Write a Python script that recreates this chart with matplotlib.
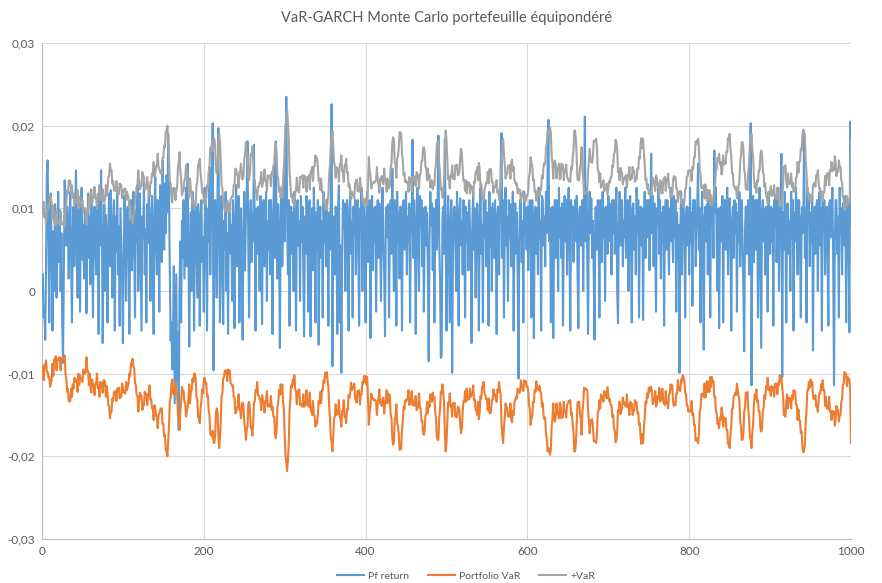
import matplotlib.pyplot as plt
import numpy as np
from matplotlib.lines import Line2D
from matplotlib.ticker import FuncFormatter, MultipleLocator

plt.rcParams['font.family'] = ['Lato', 'DejaVu Sans']

# rendement du portefeuille simulé (en 1e-4), 1000 tirages
pf_return = [
    20, -32, -25, -59, 30, 142, 158, 62, -38, 95, 118, 40, -48, 72, 0, 105, 88, -8, 60, 120,
    35, 98, 0, 70, -40, -87, 20, 134, 110, 55, 102, 78, 15, 92, 120, 45, -38, 68, 102, 30,
    85, 146, 60, -8, 112, 70, -25, 95, 125, 38, 80, 15, 100, 58, -27, 75, 118, 40, 90, 8,
    110, 62, -32, 88, 102, 45, 20, 98, 70, -52, 115, 55, 146, 80, -63, 40, 105, 0, 92, 60,
    -38, 75, 118, 30, 122, 85, -8, 68, 110, -48, 90, 48, 125, 20, 78, -42, 100, 60, 15, -63,
    40, 115, 70, -12, 95, 102, 55, -52, 82, 110, 25, 68, 120, 45, -32, 98, 60, 128, 0, 80,
    118, 35, -48, 90, 65, 132, 20, 75, -38, 105, 58, 125, 88, -12, 70, 115, 40, -52, 95, 138,
    60, 20, 110, 75, -25, 128, 90, 35, 158, 100, 50, 130, 70, 140, 95, 190, 120, 20, -60, -38,
    -95, -40, 30, -136, -60, 20, -110, -50, -168, 0, 60, -38, 85, 40, 110, 15, 70, 125, 30, 154,
    60, -67, 40, 95, 0, 120, 70, -48, 88, 102, 50, -8, 105, 75, -42, 90, 110, 35, 65, -25,
    80, 125, 45, -48, 100, 60, 150, 20, 95, 102, 203, -96, 40, 110, 70, -8, 125, 197, 60, -38,
    75, 115, 20, -40, 85, 50, 120, 0, 70, -52, 95, 106, 45, 80, -12, 110, 60, -45, 90, 128,
    30, 85, 115, -38, 65, 100, 40, -59, 70, 120, 25, 90, 110, 181, 55, -32, 80, 110, 35, 95,
    60, 177, 70, -48, 100, 45, 102, 80, 0, 115, 60, -40, 95, 110, 30, 75, 120, -12, 85, 50,
    110, 20, 110, 65, -52, 95, 150, 40, 181, 70, 15, 105, 55, -69, 80, 120, 30, 90, 150, 60,
    170, 235, 90, 20, 110, -42, 70, 102, 45, 95, 0, 120, 75, -48, 100, 110, 55, 85, -12, 115,
    60, 102, 20, -55, 90, 45, 115, 75, -25, 105, 110, -55, 60, 100, 25, 125, 80, -38, 95, 50,
    110, -65, 70, 102, 40, 85, -32, 120, 60, 100, 30, 110, 75, -42, 95, 50, 120, 226, -91, 60,
    90, 20, 102, 70, -52, 100, 128, -38, 55, -99, 40, 110, 75, 106, 0, 90, 110, 60, -48, 100,
    120, 45, 85, -32, 102, 70, 110, 20, 95, 110, 55, -42, 100, 75, 125, 0, 85, 106, 50, -38,
    90, 120, 35, 70, 110, -57, 80, 115, 25, 100, 60, 102, -25, 85, 110, 40, 106, 70, -12, 95,
    125, 55, 20, -55, 90, 102, 65, 105, -32, 80, 110, 45, 148, 70, 0, 110, 85, -42, 120, 60,
    95, 15, 102, 75, -48, 105, 110, 50, 85, 120, 20, 90, 60, 106, -38, 100, 70, 183, 40, 110,
    55, -52, 90, 125, 65, 0, 115, 80, 110, 30, 100, -25, 75, 102, 55, 95, 20, -85, 60, 120,
    80, 106, 25, 100, -38, 70, 110, 50, 110, 188, 60, 15, -81, -79, 90, 102, 45, 183, 70, -48,
    60, 115, 35, -38, 90, 110, -99, 40, 100, 102, 65, 0, 120, 80, -42, 95, 112, 55, 85, 20,
    110, 70, -32, 102, 60, 95, 25, 110, 80, 40, -63, 85, 120, 50, 100, -8, 75, 106, 60, -48,
    90, 125, 45, 80, -38, 115, 65, 110, 30, 95, 70, -42, 120, 55, 100, 0, 106, 75, 40, 110,
    60, -52, 95, 102, 20, 85, 150, 191, 40, 110, -32, 75, 125, 55, 90, -12, 110, 65, 105, 30,
    80, 120, -48, 70, 106, 45, 95, 15, -106, 60, 110, 110, 35, 85, -38, 120, 70, 100, 50, 102,
    25, 95, 110, 60, -32, 110, 75, -57, 90, 102, 45, 100, 20, 125, 65, 85, -48, 115, 110, 55,
    90, 30, 120, 70, 150, 207, 60, 100, -38, 85, 102, -57, 75, 110, 40, 110, 95, 0, 125, 65,
    100, 40, 106, -42, 80, 115, 60, 110, 20, 95, 125, 50, -48, 110, 75, 102, 35, 90, 110, 60,
    115, 20, -45, 95, 102, 55, 80, 110, 0, 100, 211, 60, 125, 30, -52, 90, 120, 70, 112, 40,
    85, 20, -59, 100, 102, 50, 110, 75, -32, 110, 90, 35, 120, 65, 100, -12, 102, 80, 45, 115,
    60, 106, 90, 20, 110, 70, 110, 45, 95, 125, 0, -39, 80, 120, 55, 100, 110, 30, 85, 65,
    125, 40, 95, 110, 0, 80, 115, 60, -38, 100, 106, 50, 90, 20, 125, 70, 110, -32, 85, 102,
    55, 100, -35, 75, 120, 40, 95, 110, 65, 110, 25, 90, 166, 70, 115, 30, 106, 55, -25, 100,
    80, 125, 45, 110, 15, 95, 60, 102, -42, 85, 110, 50, 110, 75, 20, 100, 60, 125, 90, 35,
    115, 65, 110, -25, 95, 40, 80, -99, 60, 120, 20, 105, 110, 70, -32, 90, 102, 55, 100, 20,
    125, 60, 95, -18, 110, 80, 110, 30, 75, 106, 154, 50, 100, -38, 85, 120, 40, -71, 90, 102,
    60, 105, 20, 110, 75, -32, 110, 85, 106, 40, 170, 95, 125, 55, 0, 100, -45, 80, 102, 60,
    115, -38, 90, 110, 50, 80, 125, 20, 100, 112, 60, -48, 85, 102, 40, 110, 70, 106, -25, 95,
    60, 120, 30, 90, 110, 55, 0, -73, 75, 102, 45, 100, 110, 20, 85, 203, -114, 60, 115, 35,
    90, 110, 50, 110, -32, 75, 125, 30, -69, 95, 110, 60, 100, 20, 102, 70, -25, 115, 85, 45,
    102, 60, 100, -42, 110, 80, 115, 35, 90, 125, 0, 75, 110, 166, -104, 95, 50, 120, 70, -38,
    105, 106, 45, 85, 0, 120, 65, 110, -48, 95, 60, 125, 80, 20, 110, 110, 50, -32, 90, 102,
    70, 190, 40, 100, -38, 125, 85, 110, 30, 95, 60, 115, -72, 80, 102, 45, 100, 110, 0, 85,
    120, 55, 100, -48, 110, 75, 110, 20, 90, 102, 50, -42, 105, 110, 65, 85, 125, 35, -114, 60,
    110, 110, 45, 90, -32, 125, 70, 100, 20, 106, 80, 55, 115, -38, 95, 110, 60, -50, 205, 80,
]

# VaR GARCH du portefeuille (en 1e-4)
portfolio_var = [
    -93, -108, -89, -91, -84, -98, -98, -105, -104, -116, -111, -107, -88, -103, -83, -82, -79, -96, -82, -84,
    -81, -80, -96, -81, -83, -80, -82, -78, -100, -105, -122, -118, -133, -134, -133, -118, -128, -113, -118, -105,
    -109, -110, -107, -122, -100, -114, -102, -107, -108, -110, -95, -99, -100, -98, -80, -96, -97, -114, -100, -117,
    -123, -107, -114, -114, -126, -112, -112, -100, -117, -117, -128, -110, -111, -112, -123, -108, -108, -111, -128, -115,
    -123, -138, -139, -154, -146, -146, -130, -133, -122, -122, -121, -133, -118, -122, -117, -130, -127, -128, -112, -117,
    -123, -121, -124, -110, -120, -116, -112, -100, -103, -87, -90, -82, -91, -94, -111, -114, -126, -127, -146, -133,
    -123, -126, -127, -144, -140, -138, -122, -125, -124, -138, -125, -127, -114, -132, -131, -142, -141, -156, -138, -141,
    -151, -151, -166, -150, -148, -144, -142, -142, -161, -161, -176, -174, -193, -194, -200, -180, -162, -133, -130, -113,
    -107, -124, -125, -124, -110, -124, -124, -149, -156, -168, -145, -135, -116, -120, -121, -134, -135, -152, -146, -141,
    -129, -113, -136, -122, -120, -106, -110, -100, -100, -107, -128, -132, -153, -154, -160, -142, -134, -119, -124, -109,
    -105, -112, -111, -128, -126, -144, -150, -173, -174, -176, -169, -183, -184, -176, -147, -142, -147, -174, -190, -179,
    -157, -127, -124, -106, -104, -96, -98, -96, -109, -95, -100, -96, -111, -112, -115, -114, -128, -129, -148, -147,
    -141, -140, -125, -144, -144, -154, -136, -135, -138, -160, -165, -180, -168, -164, -137, -134, -143, -166, -164, -175,
    -163, -135, -134, -120, -122, -110, -126, -126, -131, -131, -144, -126, -131, -134, -147, -134, -132, -121, -140, -137,
    -139, -140, -127, -144, -140, -152, -152, -173, -178, -168, -141, -135, -120, -126, -113, -124, -113, -134, -144, -175,
    -199, -207, -218, -204, -184, -144, -130, -114, -117, -107, -112, -102, -119, -122, -137, -122, -120, -119, -138, -137,
    -139, -140, -125, -140, -138, -138, -120, -137, -138, -140, -123, -143, -146, -150, -133, -150, -151, -164, -158, -161,
    -149, -133, -136, -122, -136, -120, -120, -108, -111, -99, -104, -98, -109, -116, -141, -154, -178, -183, -194, -177,
    -155, -152, -137, -150, -148, -148, -132, -153, -154, -164, -145, -145, -132, -152, -151, -160, -143, -144, -126, -129,
    -123, -111, -120, -116, -116, -112, -130, -132, -135, -121, -122, -120, -137, -126, -125, -110, -112, -103, -110, -103,
    -113, -104, -129, -162, -146, -140, -124, -129, -130, -132, -131, -133, -134, -150, -133, -130, -119, -136, -134, -139,
    -131, -129, -148, -136, -134, -120, -136, -124, -125, -127, -150, -154, -179, -186, -183, -156, -152, -137, -160, -163,
    -173, -192, -192, -190, -166, -158, -140, -143, -132, -134, -131, -131, -120, -138, -135, -132, -121, -138, -134, -139,
    -131, -127, -144, -142, -140, -124, -140, -142, -157, -157, -172, -174, -169, -150, -149, -134, -148, -135, -140, -125,
    -131, -134, -123, -130, -128, -146, -154, -177, -180, -180, -153, -143, -122, -124, -113, -122, -135, -172, -194, -183,
    -159, -135, -138, -124, -140, -138, -152, -136, -137, -135, -152, -150, -153, -140, -141, -144, -162, -172, -166, -147,
    -133, -134, -121, -134, -118, -132, -130, -131, -118, -128, -125, -125, -114, -132, -131, -144, -145, -150, -134, -155,
    -147, -127, -130, -116, -114, -110, -124, -126, -131, -131, -144, -130, -147, -148, -147, -132, -132, -119, -126, -125,
    -131, -134, -119, -122, -110, -120, -126, -161, -174, -184, -165, -153, -136, -140, -141, -152, -151, -152, -136, -155,
    -159, -145, -150, -134, -132, -128, -130, -118, -123, -123, -122, -108, -115, -118, -121, -108, -112, -109, -116, -115,
    -121, -138, -143, -162, -154, -152, -134, -135, -120, -122, -109, -119, -118, -120, -115, -122, -123, -140, -136, -151,
    -155, -153, -174, -178, -194, -190, -194, -198, -191, -163, -154, -136, -155, -158, -153, -136, -148, -149, -154, -135,
    -137, -154, -153, -152, -134, -146, -146, -153, -138, -136, -133, -133, -132, -150, -147, -162, -171, -194, -194, -183,
    -159, -135, -134, -134, -150, -154, -174, -146, -137, -117, -120, -118, -119, -120, -145, -156, -172, -159, -156, -155,
    -163, -182, -181, -182, -184, -172, -146, -145, -132, -142, -125, -129, -128, -134, -121, -124, -123, -130, -116, -125,
    -133, -131, -138, -138, -152, -150, -166, -168, -183, -180, -170, -144, -145, -134, -149, -146, -142, -129, -136, -135,
    -139, -140, -125, -140, -138, -150, -134, -137, -136, -150, -145, -145, -132, -136, -135, -148, -147, -162, -160, -179,
    -185, -173, -184, -166, -154, -134, -136, -124, -129, -117, -122, -116, -116, -122, -137, -134, -132, -121, -140, -137,
    -127, -130, -117, -134, -132, -120, -118, -135, -136, -138, -121, -135, -136, -142, -125, -124, -113, -118, -114, -133,
    -139, -135, -138, -124, -124, -108, -120, -120, -121, -107, -110, -102, -104, -108, -123, -124, -138, -139, -146, -145,
    -145, -146, -133, -150, -148, -162, -162, -181, -178, -182, -184, -173, -146, -142, -125, -124, -125, -128, -112, -129,
    -123, -109, -122, -110, -122, -104, -116, -104, -111, -109, -128, -128, -145, -148, -161, -158, -166, -153, -156, -141,
    -147, -164, -153, -156, -154, -168, -168, -185, -184, -190, -173, -163, -142, -142, -127, -126, -123, -126, -112, -119,
    -127, -131, -156, -164, -180, -180, -172, -146, -141, -123, -126, -122, -143, -154, -177, -180, -190, -171, -162, -137,
    -125, -130, -119, -134, -132, -146, -146, -165, -170, -166, -145, -141, -126, -130, -115, -116, -105, -120, -116, -121,
    -127, -115, -120, -116, -128, -112, -114, -112, -125, -111, -114, -102, -109, -104, -117, -126, -150, -151, -152, -133,
    -125, -142, -129, -132, -130, -142, -126, -131, -120, -124, -121, -137, -138, -156, -143, -156, -157, -172, -170, -189,
    -195, -194, -186, -158, -144, -120, -120, -110, -117, -107, -114, -110, -127, -130, -131, -126, -140, -139, -146, -131,
    -123, -124, -113, -120, -108, -120, -120, -139, -128, -142, -141, -143, -128, -146, -145, -156, -145, -150, -146, -163,
    -155, -139, -144, -144, -158, -150, -150, -134, -131, -113, -112, -98, -100, -100, -115, -104, -106, -107, -120, -184,
]

ret = np.array(pf_return) / 1e4
var = np.array(portfolio_var) / 1e4
var_plus = -var  # borne symétrique +VaR
t = np.arange(1, len(ret) + 1)

c_ret, c_var, c_plus = '#5b9bd5', '#ed7d31', '#a5a5a5'
txt = '#595959'

fig = plt.figure(figsize=(8.82, 5.83), dpi=100)
ax = fig.add_axes([42 / 882, 44 / 583, 809 / 882, 496 / 583])

ax.plot(t, ret, color=c_ret, lw=1.5, zorder=3)
ax.plot(t, var, color=c_var, lw=1.5, zorder=4)
ax.plot(t, var_plus, color=c_plus, lw=1.5, zorder=5)

ax.set_xlim(0, 1000)
ax.set_ylim(-0.03, 0.03)
ax.xaxis.set_major_locator(MultipleLocator(200))
ax.yaxis.set_major_locator(MultipleLocator(0.01))
ax.yaxis.set_major_formatter(FuncFormatter(
    lambda v, p: '0' if abs(v) < 1e-9 else f'{v:.2f}'.replace('.', ',')))

ax.grid(True, color='#d9d9d9', lw=0.8, zorder=0)
for side in ['top', 'right']:
    ax.spines[side].set_visible(False)
for side in ['left', 'bottom']:
    ax.spines[side].set_color('#bfbfbf')
    ax.spines[side].set_linewidth(0.8)
ax.tick_params(length=0, colors=txt, labelsize=8.5)
ax.tick_params(axis='y', pad=5)
ax.tick_params(axis='x', pad=5)

fig.text(0.506, 1 - 18 / 583, 'VaR-GARCH Monte Carlo portefeuille équipondéré',
         ha='center', va='center', color=txt, fontsize=10.5)

handles = [Line2D([], [], color=c, lw=1.5) for c in (c_ret, c_var, c_plus)]
fig.legend(handles, ['Pf return', 'Portfolio VaR', '+VaR'], loc='center',
           bbox_to_anchor=(0.528, 7 / 583), ncol=3, frameon=False, fontsize=7.5,
           labelcolor=txt, handlelength=2.6, columnspacing=1.8, handletextpad=0.4)

fig.savefig('out.png', dpi=100)
